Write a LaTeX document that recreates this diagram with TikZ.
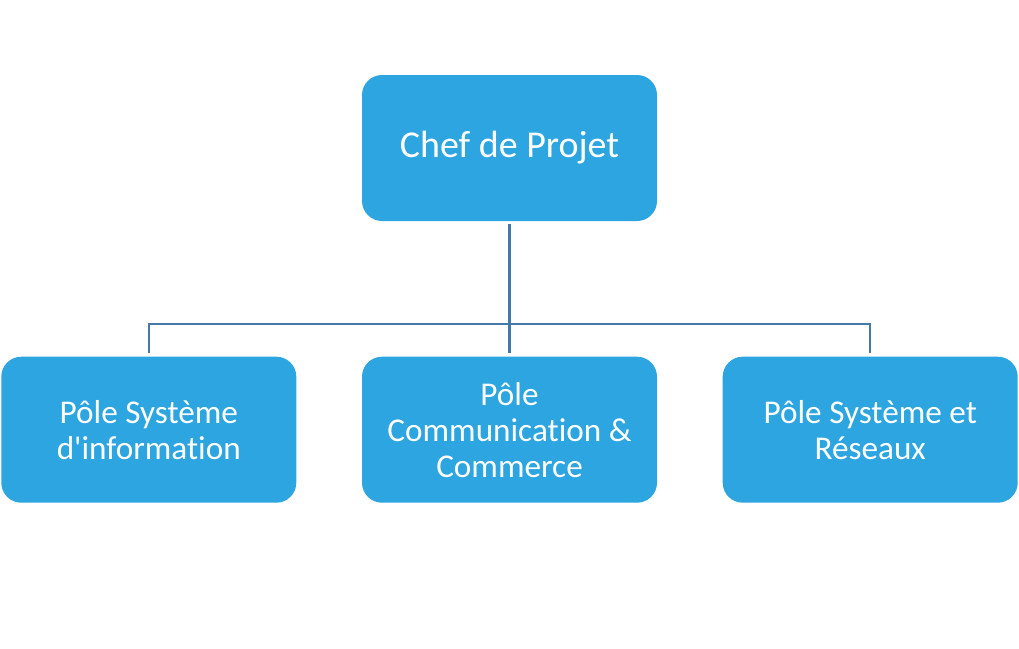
\documentclass[tikz,border=0pt]{standalone}
\usepackage{fontspec}
\setmainfont{Carlito}[Ligatures={TeX,NoCommon}]
\usetikzlibrary{positioning,calc}
\definecolor{boxblue}{HTML}{2CA5E0}
\definecolor{linkblue}{HTML}{4479A9}
\tikzset{
	pole/.style={fill=boxblue, rounded corners=0.4cm, minimum width=5.9cm, minimum height=2.92cm, text=white, align=center, font=\fontsize{18.9}{20.5}\selectfont, inner sep=0pt},
	chef/.style={pole, font=\fontsize{21.6}{24}\selectfont},
	link/.style={draw=linkblue, line width=1pt}
}
\begin{document}
\begin{tikzpicture}
			%%%%% START %%%%%
			
			\useasboundingbox (0, 0) rectangle (20.38, -12.96);
			
			\node[chef] (chef) at (10.19, -2.96) {Chef de Projet};
			
			\node[pole, below=2.7cm of chef] (comm) {Pôle\\Communication \&\\Commerce};
			\node[pole, left=1.3cm of comm] (si) {Pôle Système\\d\textquotesingle information};
			\node[pole, right=1.3cm of comm] (reseaux) {Pôle Système et\\Réseaux};
			
			\coordinate (bus) at ($(comm.north)+(0, 0.64)$);
			
			\draw[link, line width=1.6pt, shorten <=0.06cm, shorten >=0.06cm] (chef.south) -- (comm.north);
			\draw[link, shorten <=0.06cm, shorten >=0.06cm] (si.north) |- (bus) -| (reseaux.north);
			
			%%%%% END %%%%%
\end{tikzpicture}
\end{document}
